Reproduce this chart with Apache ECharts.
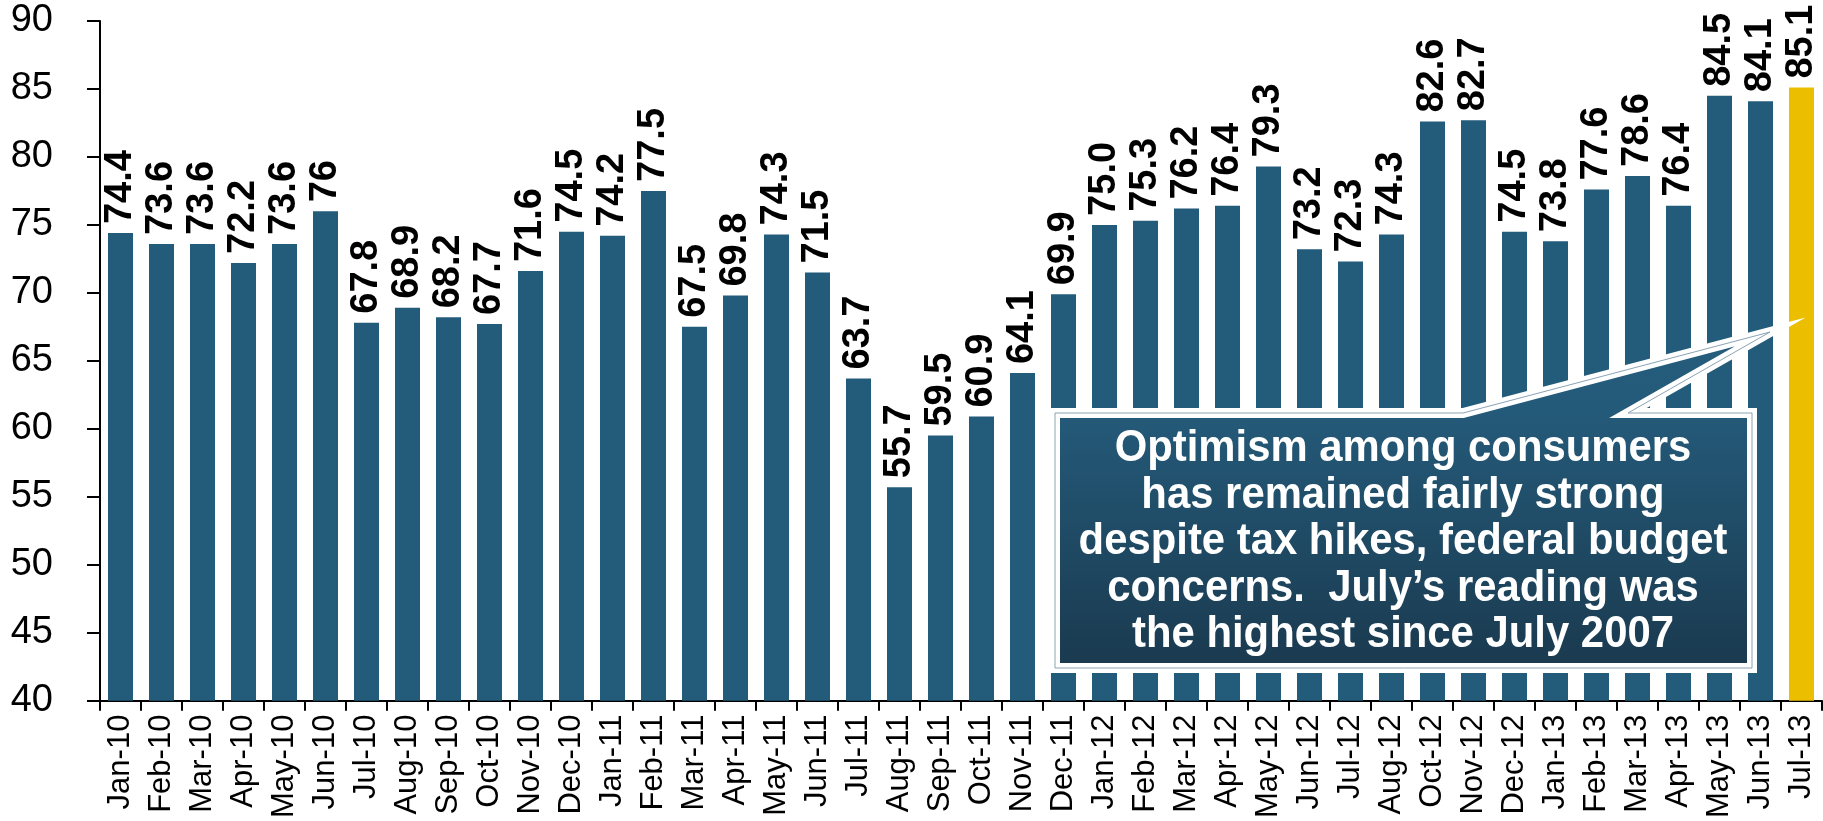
<!DOCTYPE html>
<html>
<head>
<meta charset="utf-8">
<script src="https://cdn.jsdelivr.net/npm/echarts@6/dist/echarts.min.js"></script>
<style>
  html, body { margin: 0; padding: 0; background: #fff; }
  #chart { width: 1823px; height: 821px; }
</style>
</head>
<body>
<div id="chart"></div>
<script>
var months = ['Jan-10','Feb-10','Mar-10','Apr-10','May-10','Jun-10','Jul-10','Aug-10','Sep-10','Oct-10','Nov-10','Dec-10',
  'Jan-11','Feb-11','Mar-11','Apr-11','May-11','Jun-11','Jul-11','Aug-11','Sep-11','Oct-11','Nov-11','Dec-11',
  'Jan-12','Feb-12','Mar-12','Apr-12','May-12','Jun-12','Jul-12','Aug-12','Oct-12','Nov-12','Dec-12',
  'Jan-13','Feb-13','Mar-13','Apr-13','May-13','Jun-13','Jul-13'];
var sentiment = [74.4, 73.6, 73.6, 72.2, 73.6, 76, 67.8, 68.9, 68.2, 67.7, 71.6, 74.5,
  74.2, 77.5, 67.5, 69.8, 74.3, 71.5, 63.7, 55.7, 59.5, 60.9, 64.1, 69.9,
  75.0, 75.3, 76.2, 76.4, 79.3, 73.2, 72.3, 74.3, 82.6, 82.7, 74.5,
  73.8, 77.6, 78.6, 76.4, 84.5, 84.1, 85.1];
var barLabels = ['74.4','73.6','73.6','72.2','73.6','76','67.8','68.9','68.2','67.7','71.6','74.5',
  '74.2','77.5','67.5','69.8','74.3','71.5','63.7','55.7','59.5','60.9','64.1','69.9',
  '75.0','75.3','76.2','76.4','79.3','73.2','72.3','74.3','82.6','82.7','74.5',
  '73.8','77.6','78.6','76.4','84.5','84.1','85.1'];
var yTicks = [40, 45, 50, 55, 60, 65, 70, 75, 80, 85, 90];
var calloutText = ['Optimism among consumers', 'has remained fairly strong',
  'despite tax hikes, federal budget', 'concerns.  July\u2019s reading was', 'the highest since July 2007'];

var blue = '#235B7A', gold = '#EBBF00';
var myChart = echarts.init(document.getElementById('chart'));

var barData = [];
for (var i = 0; i < sentiment.length; i++) {
  barData.push({
    value: sentiment[i],
    itemStyle: { color: i === sentiment.length - 1 ? gold : blue }
  });
}

// callout outline (box + pointer towards the Jul-13 bar)
var calloutShape = [[1055, 413], [1463, 413], [1770, 332], [1628, 413], [1752, 413], [1752, 668], [1055, 668]];

option = {
  animation: false,
  backgroundColor: '#fff',
  grid: { left: 100, right: 1, top: 21, bottom: 119 },
  xAxis: {
    type: 'category',
    data: months,
    boundaryGap: true,
    axisLine: { lineStyle: { color: '#000', width: 2 } },
    axisTick: { show: true, length: 10, lineStyle: { color: '#000', width: 2 } },
    axisLabel: {
      interval: 0,
      rotate: 90,
      margin: 14,
      color: '#000',
      fontSize: 31,
      fontFamily: 'Liberation Sans, Arial, sans-serif'
    }
  },
  yAxis: {
    type: 'value',
    min: yTicks[0],
    max: yTicks[yTicks.length - 1],
    interval: 5,
    splitLine: { show: false },
    axisLine: { show: true, lineStyle: { color: '#000', width: 2 } },
    axisTick: { show: true, length: 13, lineStyle: { color: '#000', width: 2 } },
    axisLabel: {
      margin: 47,
      color: '#000',
      fontSize: 38,
      fontFamily: 'Liberation Sans, Arial, sans-serif'
    }
  },
  series: [{
    type: 'bar',
    data: barData,
    barCategoryGap: '39%',
    label: {
      show: true,
      position: 'top',
      rotate: 90,
      align: 'left',
      verticalAlign: 'middle',
      distance: 9,
      color: '#000',
      fontSize: 38,
      fontWeight: 'bold',
      fontFamily: 'Liberation Sans, Arial, sans-serif',
      formatter: function (p) { return barLabels[p.dataIndex]; }
    }
  }],
  graphic: [{
    type: 'polygon',
    z: 100,
    shape: { points: calloutShape },
    style: {
      fill: new echarts.graphic.LinearGradient(0, 0, 0, 1, [
        { offset: 0, color: '#255D7D' },
        { offset: 0.25, color: '#245A79' },
        { offset: 1, color: '#1A394E' }
      ]),
      stroke: '#fff',
      lineWidth: 10,
      lineJoin: 'miter'
    }
  }, {
    type: 'polygon',
    z: 101,
    shape: { points: calloutShape },
    style: { fill: 'none', stroke: '#8AA3B3', lineWidth: 1 }
  }, {
    type: 'text',
    z: 102,
    x: 1403,
    y: 542,
    scaleX: 0.93,
    style: {
      text: calloutText.join('\n'),
      fill: '#fff',
      fontSize: 45,
      fontWeight: 'bold',
      fontFamily: 'Liberation Sans Narrow, Arial Narrow, Liberation Sans, sans-serif',
      lineHeight: 46.5,
      align: 'center',
      verticalAlign: 'middle',
      textAlign: 'center',
      textVerticalAlign: 'middle'
    }
  }]
};

myChart.setOption(option);
</script>
</body>
</html>
